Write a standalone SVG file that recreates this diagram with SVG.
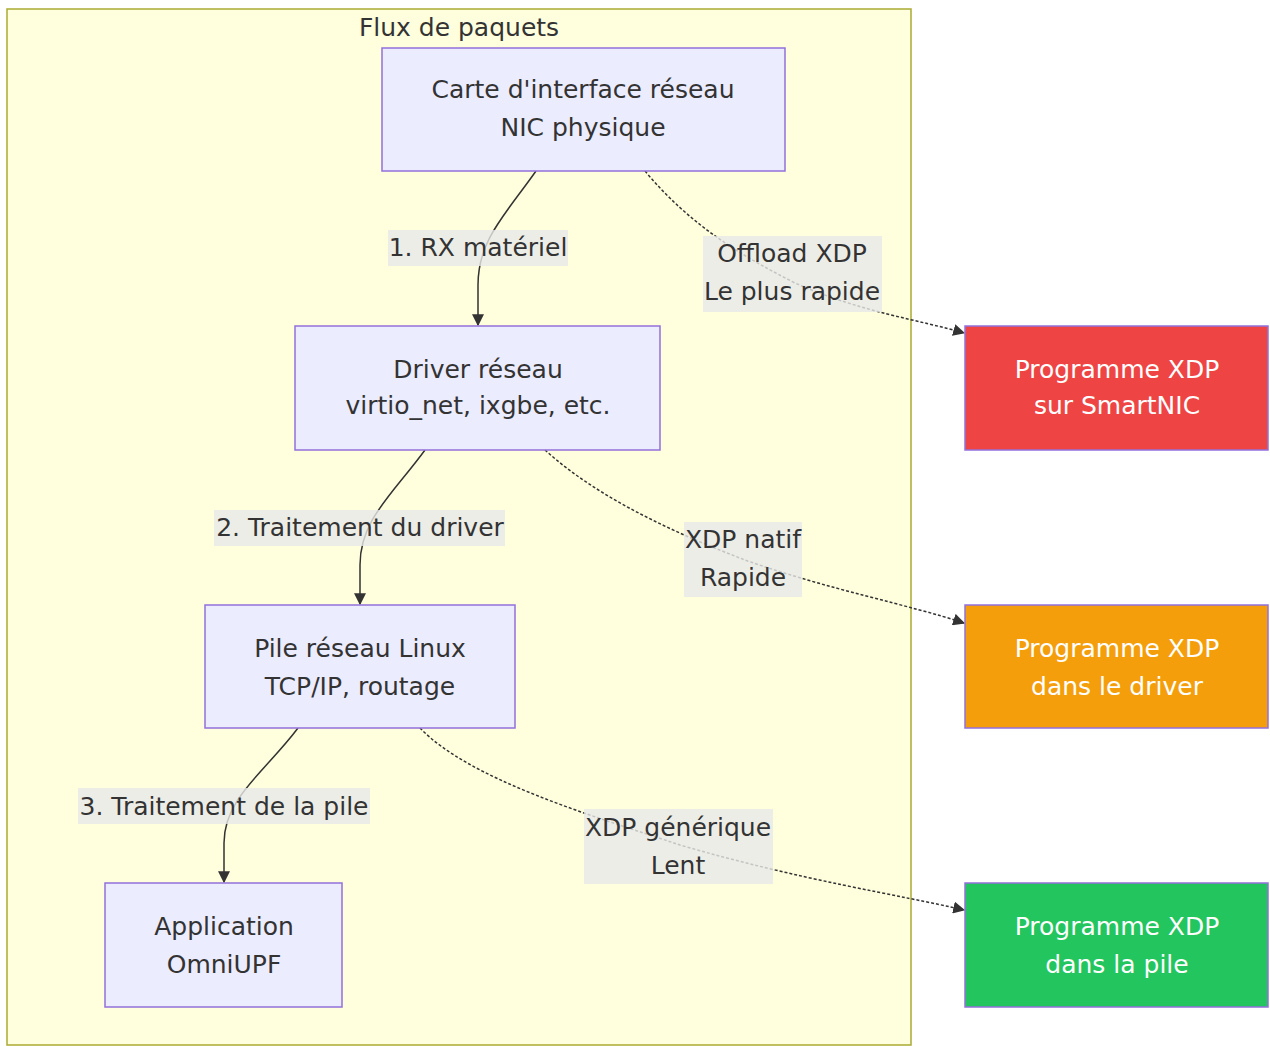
<svg xmlns="http://www.w3.org/2000/svg" width="1270" height="1046" viewBox="0 0 1270 1046">
<defs>
<style>
text{font-family:"DejaVu Sans","Noto Sans",sans-serif;font-size:25px;fill:#333;text-anchor:middle;dominant-baseline:central}
.node rect{fill:#ECECFF;stroke:#9370DB;stroke-width:1.5}
.xdp text{fill:#fff}
.lbl{fill:rgba(232,232,232,0.8)}
.e{fill:none;stroke:#333;stroke-width:1.5}
.d{fill:none;stroke:#333;stroke-width:1.5;stroke-dasharray:3 2}
</style>
<marker id="arr" viewBox="0 0 10 10" refX="9" refY="5" markerWidth="12" markerHeight="12" orient="auto" markerUnits="userSpaceOnUse">
<path d="M0,0 L10,5 L0,10 z" fill="#333"/>
</marker>
</defs>
<rect width="1270" height="1046" fill="#fff"/>
<g id="cluster">
<rect x="7" y="9" width="904" height="1036" fill="#ffffde" stroke="#aaaa33" stroke-width="1.5"/>
<text x="459" y="27">Flux de paquets</text>
</g>
<g id="edges">
<path class="e" d="M536,171 C505,215 478,240 478,285 L478,325" marker-end="url(#arr)"/>
<path class="e" d="M425,450 C392,495 360,520 360,565 L360,604" marker-end="url(#arr)"/>
<path class="e" d="M298,728 C265,772 224,798 224,843 L224,882" marker-end="url(#arr)"/>
<path class="d" d="M645,171 C690,225 740,255 795,283 C860,312 920,320 964,333" marker-end="url(#arr)"/>
<path class="d" d="M545,450 C600,500 680,535 745,560 C830,590 910,605 964,623" marker-end="url(#arr)"/>
<path class="d" d="M420,728 C470,780 590,815 680,845 C800,880 900,895 964,910" marker-end="url(#arr)"/>
<g id="edge-labels">
<rect class="lbl" x="388" y="230" width="180" height="36"/>
<text x="478" y="247">1. RX matériel</text>
<rect class="lbl" x="214" y="510" width="291" height="36"/>
<text x="360" y="527">2. Traitement du driver</text>
<rect class="lbl" x="78" y="788" width="292" height="36"/>
<text x="224" y="806">3. Traitement de la pile</text>
<rect class="lbl" x="703" y="236" width="179" height="76"/>
<text x="792" y="253">Offload XDP</text>
<text x="792" y="291">Le plus rapide</text>
<rect class="lbl" x="684" y="522" width="118" height="75"/>
<text x="743" y="539">XDP natif</text>
<text x="743" y="577">Rapide</text>
<rect class="lbl" x="584" y="809" width="189" height="75"/>
<text x="678" y="827">XDP générique</text>
<text x="678" y="865">Lent</text>
</g>
</g>
<g id="nic" class="node">
<rect x="382" y="48" width="403" height="123"/>
<text x="583" y="89">Carte d'interface réseau</text>
<text x="583" y="127">NIC physique</text>
</g>
<g id="driver" class="node">
<rect x="295" y="326" width="365" height="124"/>
<text x="478" y="369">Driver réseau</text>
<text x="478" y="405">virtio_net, ixgbe, etc.</text>
</g>
<g id="stack" class="node">
<rect x="205" y="605" width="310" height="123"/>
<text x="360" y="648">Pile réseau Linux</text>
<text x="360" y="686">TCP/IP, routage</text>
</g>
<g id="app" class="node">
<rect x="105" y="883" width="237" height="124"/>
<text x="224" y="926">Application</text>
<text x="224" y="964">OmniUPF</text>
</g>
<g id="xdp-offload" class="node xdp">
<rect x="965" y="326" width="303" height="124" style="fill:#ef4444"/>
<text x="1117" y="369">Programme XDP</text>
<text x="1117" y="405">sur SmartNIC</text>
</g>
<g id="xdp-native" class="node xdp">
<rect x="965" y="605" width="303" height="123" style="fill:#f59e0b"/>
<text x="1117" y="648">Programme XDP</text>
<text x="1117" y="686">dans le driver</text>
</g>
<g id="xdp-generic" class="node xdp">
<rect x="965" y="883" width="303" height="124" style="fill:#22c55e"/>
<text x="1117" y="926">Programme XDP</text>
<text x="1117" y="964">dans la pile</text>
</g>
</svg>
